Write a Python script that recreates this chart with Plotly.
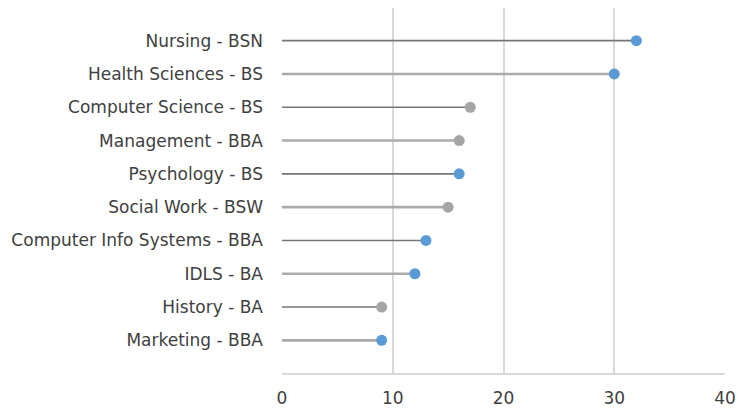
import plotly.graph_objects as go

# Degree programs, listed top to bottom
programs = [
    "Nursing - BSN",
    "Health Sciences - BS",
    "Computer Science - BS",
    "Management - BBA",
    "Psychology - BS",
    "Social Work - BSW",
    "Computer Info Systems - BBA",
    "IDLS - BA",
    "History - BA",
    "Marketing - BBA",
]
counts = [32, 30, 17, 16, 16, 15, 13, 12, 9, 9]
highlight = [True, True, False, False, True, False, True, True, False, True]
x_ticks = [0, 10, 20, 30, 40]

BLUE = "#5b9bd5"
GRAY_DOT = "#a5a5a5"
STEM_DARK = "#767676"
STEM_LIGHT = "#ababab"

fig = go.Figure()

# Stems: alternate dark thin and light thick
for i, (p, v) in enumerate(zip(programs, counts)):
    dark = i % 2 == 0
    fig.add_trace(go.Scatter(
        x=[0, v], y=[p, p], mode="lines",
        line=dict(color=STEM_DARK if dark else STEM_LIGHT, width=1.6 if dark else 2.6),
        hoverinfo="skip", showlegend=False,
    ))

# Lollipop heads
fig.add_trace(go.Scatter(
    x=counts, y=programs, mode="markers",
    marker=dict(size=11, color=[BLUE if h else GRAY_DOT for h in highlight]),
    showlegend=False,
))

fig.update_layout(
    width=741, height=408,
    margin=dict(l=282, r=16, t=8, b=35),
    paper_bgcolor="white", plot_bgcolor="white",
    font=dict(family="DejaVu Sans", size=17, color="#404040"),
)
fig.update_xaxes(
    range=[0, 40], tickvals=x_ticks, showgrid=True, gridcolor="#d9d9d9", gridwidth=1.5,
    zeroline=False, showline=True, linecolor="#d9d9d9", linewidth=1.5,
    ticks="outside", ticklen=0, ticklabelstandoff=9, automargin=False,
    tickfont=dict(size=17),
)
fig.update_yaxes(
    categoryorder="array", categoryarray=programs[::-1], range=[-0.98, 9.98],
    showgrid=False, zeroline=False, showline=False, ticks="", ticklabelstandoff=18,
    automargin=False, tickfont=dict(size=17),
)

fig.write_html("out.html")
